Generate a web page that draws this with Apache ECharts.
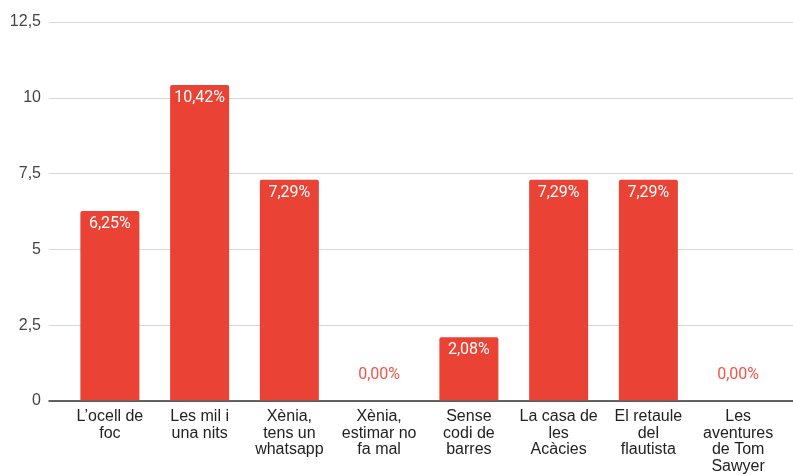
<!DOCTYPE html>
<html><head><meta charset="utf-8">
<script src="https://cdn.jsdelivr.net/npm/echarts@6/dist/echarts.min.js"></script>
<style>html,body{margin:0;padding:0;background:#fff}#c{width:793px;height:475px}</style>
</head><body><div id="c"></div>
<script>
const categories = ["L’ocell de\nfoc", "Les mil i\nuna nits", "Xènia,\ntens un\nwhatsapp", "Xènia,\nestimar no\nfa mal", "Sense\ncodi de\nbarres", "La casa de\nles\nAcàcies", "El retaule\ndel\nflautista", "Les\naventures\nde Tom\nSawyer"];
const values = [6.25, 10.42, 7.29, 0, 2.08, 7.29, 7.29, 0];
const yMin = 0, yMax = 12.5, yStep = 2.5;

const fmt = v => v.toFixed(2).replace('.', ',') + '%';
const chart = echarts.init(document.getElementById('c'), null, {renderer: 'canvas'});
const font = 'Roboto, Arial, sans-serif';
const afont = '"Liberation Sans", Arial, sans-serif';
chart.setOption({
  animation: false,
  grid: [
    {left: 49, right: 0, top: 22, bottom: 74},
    {left: 65, right: 10, top: 22, bottom: 74}
  ],
  xAxis: [
    {type: 'category', gridIndex: 0, data: [''], axisLine: {lineStyle: {color: '#333', width: 1.5}}, axisTick: {show: false}, axisLabel: {show: false}},
    {type: 'category', gridIndex: 1, data: categories, axisLine: {show: false}, axisTick: {show: false},
     axisLabel: {interval: 0, margin: 8, color: '#222', fontFamily: afont, fontSize: 16, lineHeight: 16.7, align: 'center'}}
  ],
  yAxis: [
    {type: 'value', gridIndex: 0, min: yMin, max: yMax, interval: yStep,
     axisLabel: {margin: 8, color: '#444', fontFamily: afont, fontSize: 16, formatter: v => String(v).replace('.', ',')},
     splitLine: {lineStyle: {color: '#d6d6d6', width: 1}}, axisLine: {show: false}, axisTick: {show: false}},
    {type: 'value', gridIndex: 1, min: yMin, max: yMax, interval: yStep, show: false, splitLine: {show: false}}
  ],
  series: [{
    type: 'bar', xAxisIndex: 1, yAxisIndex: 1, barWidth: 59,
    itemStyle: {color: '#ea4335', borderRadius: [2, 2, 0, 0]},
    data: values.map(v => v === 0 ? {value: v, label: {position: 'top', distance: 17, color: '#f0554a'}} : {value: v}),
    label: {show: true, position: 'insideTop', distance: 5, color: '#fff', fontFamily: font, fontSize: 16, fontWeight: 'normal',
            formatter: p => fmt(p.value)}
  }]
});
</script></body></html>
